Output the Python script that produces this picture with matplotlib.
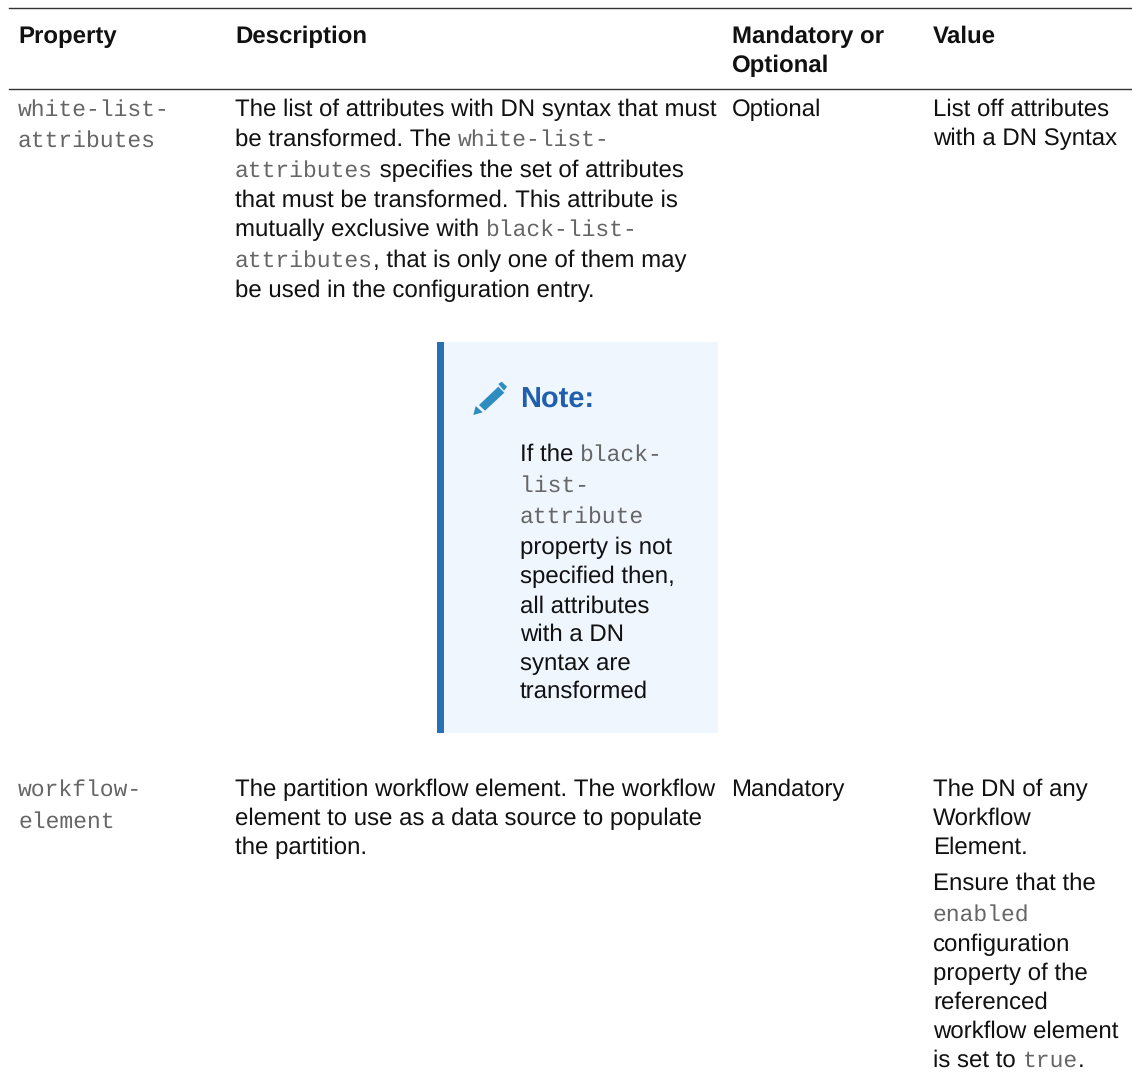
import matplotlib
matplotlib.use('Agg')
import matplotlib.pyplot as plt
from matplotlib.patches import Rectangle, Polygon

plt.rcParams['text.hinting'] = 'no_hinting'
plt.rcParams['text.hinting_factor'] = 1

SANS = 'Liberation Sans'
MONO = 'Liberation Mono'
SIZE = 17.25
MONO_SIZE = 16.3

# table text, s = sans, m = mono
headers = [
    (18, 43, 'Property'),
    (235, 43, 'Description'),
    (731.5, 43, 'Mandatory or'),
    (731.5, 72.5, 'Optional'),
    (933, 43, 'Value'),
]

cell_lines = [
    (18, 116, [('white-list-', 'm')]),
    (18, 147, [('attributes', 'm')]),
    (235, 116, [('The list of attributes with DN syntax that must', 's')]),
    (235, 146, [('be transformed. The ', 's'), ('white-list-', 'm')]),
    (235, 177, [('attributes', 'm'), (' specifies the set of attributes', 's')]),
    (235, 207, [('that must be transformed. This attribute is', 's')]),
    (235, 236, [('mutually exclusive with ', 's'), ('black-list-', 'm')]),
    (235, 267, [('attributes', 'm'), (', that is only one of them may', 's')]),
    (235, 297, [('be used in the configuration entry.', 's')]),
    (731.5, 116, [('Optional', 's')]),
    (933, 116, [('List off attributes', 's')]),
    (933, 145, [('with a DN Syntax', 's')]),
    (520, 461, [('If the ', 's'), ('black-', 'm')]),
    (520, 492, [('list-', 'm')]),
    (520, 523, [('attribute', 'm')]),
    (520, 554, [('property is not', 's')]),
    (520, 583, [('specified then,', 's')]),
    (520, 613, [('all attributes', 's')]),
    (520, 641, [('with a DN', 's')]),
    (520, 670, [('syntax are', 's')]),
    (520, 698, [('transformed', 's')]),
    (18, 796, [('workflow-', 'm')]),
    (18, 828, [('element', 'm')]),
    (235, 796, [('The partition workflow element. The workflow', 's')]),
    (235, 825, [('element to use as a data source to populate', 's')]),
    (235, 854, [('the partition.', 's')]),
    (731.5, 796, [('Mandatory', 's')]),
    (933, 796, [('The DN of any', 's')]),
    (933, 825, [('Workflow', 's')]),
    (933, 854, [('Element.', 's')]),
    (933, 890, [('Ensure that the', 's')]),
    (933, 921, [('enabled', 'm')]),
    (933, 951, [('configuration', 's')]),
    (933, 980, [('property of the', 's')]),
    (933, 1009, [('referenced', 's')]),
    (933, 1038, [('workflow element', 's')]),
    (933, 1067, [('is set to ', 's'), ('true', 'm'), ('.', 's')]),
]

fig = plt.figure(figsize=(11.32, 10.78), dpi=100, facecolor='white')
ax = fig.add_axes([0, 0, 1, 1])
ax.set_xlim(0, 1132)
ax.set_ylim(1078, 0)
ax.axis('off')

# rules above and below the header
ax.plot([9, 1131], [7.5, 7.5], color='#333333', lw=1.0)
ax.plot([9, 1131], [88.5, 88.5], color='#333333', lw=1.0)

# note box
ax.add_patch(Rectangle((437, 342), 281, 391, fc='#eff6fe', ec='none'))
ax.add_patch(Rectangle((437, 342), 6.5, 391, fc='#2870b6', ec='none'))

# pencil icon
ax.add_patch(Polygon([(473.3, 415), (475.7, 406), (482.7, 412.3)], fc='#2f8cc0', ec='none'))
ax.add_patch(Polygon([(479, 405), (498.3, 386.7), (504.3, 392.7), (485, 410.7)], fc='#2f8cc0', ec='none'))
ax.add_patch(Polygon([(498.3, 384), (501.7, 381.7), (507, 386.7), (504, 390.7)], fc='#2f8cc0', ec='none'))

ax.text(520, 408, 'Note:', family=SANS, weight='bold', size=20.8, color='#1f5fad', va='baseline')

for x, y, label in headers:
    ax.text(x, y, label, family=SANS, weight='bold', size=SIZE, color='#111111', va='baseline')

# inline runs are placed one after the other by measured width
renderer = fig.canvas.get_renderer()
for x, y, runs in cell_lines:
    cur = x
    for label, kind in runs:
        if kind == 'm':
            t = ax.text(cur, y, label, family=MONO, size=MONO_SIZE, color='#666666', va='baseline')
        else:
            t = ax.text(cur, y, label, family=SANS, size=SIZE, color='#111111', va='baseline')
        # trailing spaces count in the measure through a stand in
        probe = ax.text(0, 0, label.replace(' ', '\u00a0'), fontproperties=t.get_fontproperties())
        cur += probe.get_window_extent(renderer).width
        probe.remove()

fig.savefig('out.png', dpi=100)
